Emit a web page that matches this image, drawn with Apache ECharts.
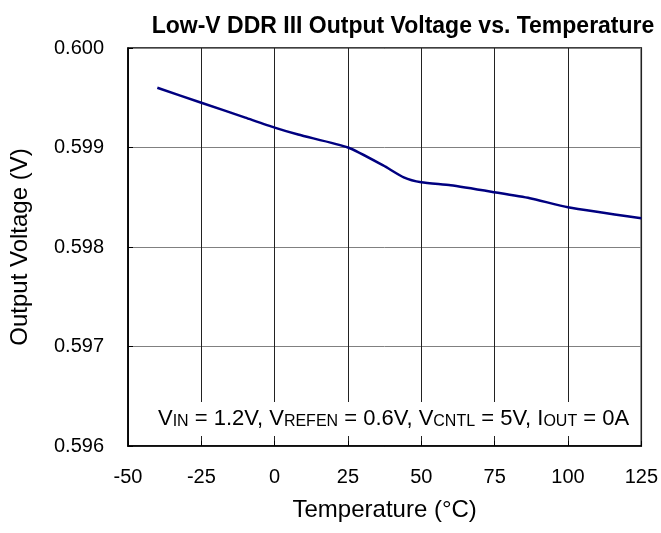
<!DOCTYPE html>
<html><head><meta charset="utf-8">
<script src="https://cdn.jsdelivr.net/npm/echarts@6/dist/echarts.min.js"></script>
<style>html,body{margin:0;padding:0;background:#fff}#c{width:661px;height:533px}</style>
</head><body><div id="c"></div>
<script>
var titleText = 'Low-V DDR III Output Voltage vs. Temperature';
var xName = 'Temperature (°C)';
var yName = 'Output Voltage (V)';
var temps = [-40, -25, -10, 0, 8, 25, 37, 44, 50, 60, 75, 87, 100, 125];
var volts = [0.5996, 0.59945, 0.5993, 0.5992, 0.59913, 0.5990, 0.59882, 0.5987, 0.59865, 0.59862, 0.59855, 0.59849, 0.5984, 0.59829];
var xMin = -50, xMax = 125, xStep = 25;
var yMin = 0.596, yMax = 0.600, yStep = 0.001;

var FONT = '"Liberation Sans", Arial, sans-serif';
var chart = echarts.init(document.getElementById('c'));
var pts = temps.map(function (t, i) { return [t, volts[i]]; });
chart.setOption({
  backgroundColor: '#fff',
  animation: false,
  title: {
    text: titleText, left: 398, top: 10, textAlign: 'center',
    textStyle: { fontFamily: FONT, fontSize: 23, fontWeight: 'bold', color: '#000' }
  },
  grid: { left: 127, right: 18, top: 48, bottom: 87, show: true, borderColor: '#000', borderWidth: 1.5, backgroundColor: 'transparent' },
  xAxis: {
    type: 'value', min: xMin, max: xMax, interval: xStep,
    name: xName, nameLocation: 'middle', nameGap: 52,
    nameTextStyle: { fontFamily: FONT, fontSize: 24, color: '#000' },
    axisLine: { show: true, onZero: false, lineStyle: { color: '#000', width: 1.5 } },
    axisTick: { show: true, inside: true, length: 5, lineStyle: { color: '#000' } },
    axisLabel: { fontFamily: FONT, fontSize: 20, color: '#000', margin: 21 },
    splitLine: { show: true, lineStyle: { color: '#222', width: 1 } }
  },
  yAxis: {
    type: 'value', min: yMin, max: yMax, interval: yStep,
    name: yName, nameLocation: 'middle', nameGap: 96, nameRotate: 90,
    nameTextStyle: { fontFamily: FONT, fontSize: 24, color: '#000' },
    axisLine: { show: true, onZero: false, lineStyle: { color: '#000', width: 1.5 } },
    axisTick: { show: true, inside: true, length: 5, lineStyle: { color: '#000' } },
    axisLabel: { fontFamily: FONT, fontSize: 20, color: '#000', margin: 24, formatter: function (v) { return v.toFixed(3); } },
    splitLine: { show: true, lineStyle: { color: '#808080', width: 1 } }
  },
  series: [{
    type: 'line', data: pts, smooth: 0.2, showSymbol: false,
    lineStyle: { color: '#000080', width: 2.5 }, z: 5
  }],
  graphic: [{
    type: 'text', left: 152, top: 402, z: 10,
    style: {
      text: '{a|V}{s|IN}{a| = 1.2V, V}{s|REFEN}{a| = 0.6V, V}{s|CNTL}{a| = 5V, I}{s|OUT}{a| = 0A}',
      backgroundColor: '#fff', padding: [6, 6, 6, 6],
      rich: {
        a: { fontFamily: FONT, fontSize: 22, color: '#000', lineHeight: 22, verticalAlign: 'bottom' },
        s: { fontFamily: FONT, fontSize: 16, color: '#000', lineHeight: 16, verticalAlign: 'bottom' }
      }
    }
  }]
});
</script></body></html>
